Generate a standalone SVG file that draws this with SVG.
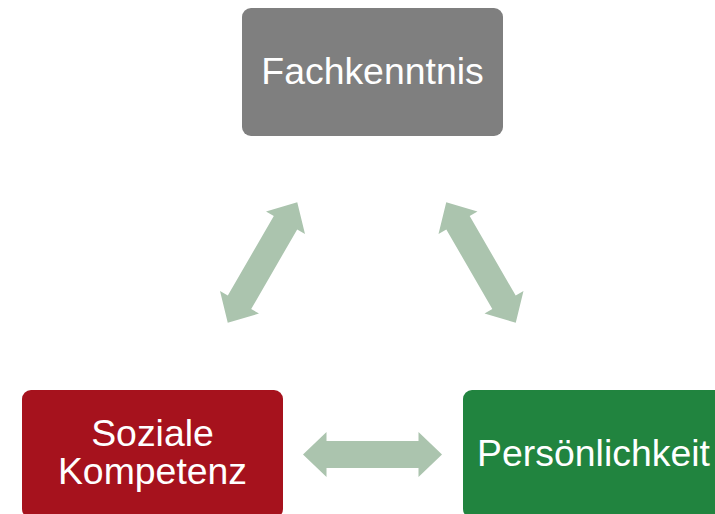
<svg xmlns="http://www.w3.org/2000/svg" xmlns:xlink="http://www.w3.org/1999/xlink" width="715" height="514" viewBox="0 0 715 514">
<style>
.lbl{font-family:"Liberation Sans",Arial,sans-serif;font-size:37.4px;fill:#ffffff;text-anchor:middle}
.arr{fill:#abc4ae}
</style>
<defs>
<path id="dbl" d="M-69.5,0 L-46,-22.5 L-46,-13.5 L46,-13.5 L46,-22.5 L69.5,0 L46,22.5 L46,13.5 L-46,13.5 L-46,22.5 Z"/>
</defs>
<rect width="715" height="514" fill="#ffffff"/>
<g id="connectors">
<use xlink:href="#dbl" class="arr" transform="translate(262.5,262.5) rotate(-60)"/>
<use xlink:href="#dbl" class="arr" transform="translate(481,262.5) rotate(60)"/>
<use xlink:href="#dbl" class="arr" transform="translate(372.5,454.5)"/>
</g>
<g id="fachkenntnis">
<rect x="242" y="8" width="261" height="128" rx="9" fill="#7f7f7f"/>
<text class="lbl" x="372.5" y="84">Fachkenntnis</text>
</g>
<g id="soziale-kompetenz">
<rect x="22" y="390" width="261" height="128" rx="9" fill="#a6121d"/>
<text class="lbl" x="152.5" y="446">Soziale</text>
<text class="lbl" x="152.5" y="484">Kompetenz</text>
</g>
<g id="persoenlichkeit">
<rect x="463" y="390" width="261" height="128" rx="9" fill="#21843f"/>
<text class="lbl" x="593.5" y="466">Persönlichkeit</text>
</g>
</svg>
